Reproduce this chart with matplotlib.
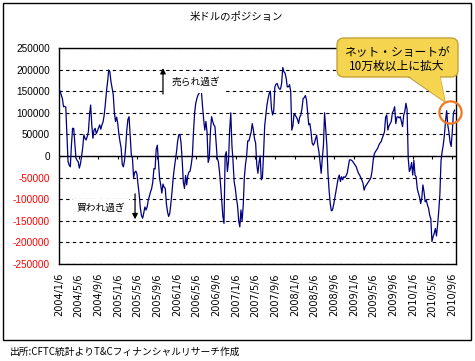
import numpy as np
import pandas as pd
import matplotlib
matplotlib.use("Agg")
import matplotlib.pyplot as plt
import matplotlib.transforms as mtransforms
from matplotlib.patches import Rectangle, FancyBboxPatch, Polygon
from matplotlib.lines import Line2D

plt.rcParams['font.family'] = ['Noto Sans CJK JP', 'DejaVu Sans']

# weekly net position of USD (thousand contracts)
y2004 = [155, 150, 141, 133, 114, 115, 113, 50, -13, -21,
         -25, 25, 64, 64, 30, -5, -10, -13, -28, -18,
         0, 20, 49, 41, 37, 45, 56, 95, 118, 72,
         41, 60, 64, 52, 58, 65, 72, 62, 72, 79,
         95, 120, 150, 172, 199, 195, 172, 157, 142, 100,
         80, 90]
y2005 = [75, 50, 33, 18, -20, -25, -10, 20, 60, 85,
         91, 45, 2, -5, -50, -38, -35, -42, -68, -90,
         -121, -138, -144, -132, -118, -125, -118, -102, -92, -83,
         -75, -60, -29, -30, 15, 25, -15, -52, -67, -86,
         -65, -72, -75, -110, -129, -140, -133, -110, -83, -52,
         -29, -10]
y2006 = [10, 35, 49, 50, 30, -10, -60, -75, -45, -67,
         -45, -37, -35, -20, 0, 55, 100, 122, 133, 141,
         145, 200, 150, 115, 85, 60, 80, 55, -15, -5,
         56, 91, 80, 72, 68, 30, -5, -13, -36, -67,
         -105, -140, -156, 0, 10, -36, -13, 60, 100, 25,
         -13, -60]
y2007 = [-75, -98, -115, -150, -164, -125, -150, -115, -50, -20,
         0, 35, 35, 45, 55, 75, 60, 40, 30, -20,
         -40, -15, 0, -55, -50, 5, 70, 95, 118, 133,
         145, 150, 110, 95, 105, 160, 166, 168, 160, 155,
         155, 168, 205, 195, 192, 180, 160, 160, 165, 150,
         60, 70]
y2008 = [98, 95, 90, 85, 75, 90, 95, 110, 133, 135,
         140, 130, 100, 72, 75, 56, 30, 25, 30, 40,
         48, 25, 10, -15, -40, -5, 25, 100, 64, 25,
         -40, -80, -110, -127, -125, -113, -98, -83, -67, -52,
         -44, -59, -48, -55, -48, -50, -46, -40, -25, -9,
         -9, -10, -13]
y2009 = [-17, -21, -25, -33, -40, -44, -50, -56, -63, -79,
         -71, -67, -63, -59, -55, -50, -35, -10, 5, 10,
         14, 18, 25, 30, 33, 41, 48, 56, 90, 95,
         60, 70, 75, 80, 100, 105, 114, 75, 90, 91,
         88, 91, 80, 68, 95, 103, 122, 107, -5, -36,
         -29, -15]
y2010 = [-44, -10, -44, -48, -75, -86, -95, -110, -98, -67,
         -83, -106, -102, -113, -121, -137, -145, -198, -187, -179,
         -168, -185, -160, -128, -90, -13, 10, 25, 48, 80,
         105, 72, 56, 33, 22, 56, 100, 106]

net = np.array(y2004 + y2005 + y2006 + y2007 + y2008 + y2009 + y2010) * 1000
dates = pd.date_range('2004-01-06', periods=len(net), freq='7D')

tick_dates = pd.date_range('2004-01-01', '2010-09-01', freq='4MS') + pd.Timedelta(days=5)
tick_labels = [f"{d.year}/{d.month}/{d.day}" for d in tick_dates]
yticks = np.arange(-250000, 250001, 50000)

W, H = 475, 361
fig = plt.figure(figsize=(W / 100, H / 100), dpi=100)
ax = fig.add_axes([59 / W, 1 - 264 / H, 397 / W, 216 / H])

ax.plot(dates, net, color='#000080', lw=0.9, zorder=3)
ax.axhline(0, color='k', lw=1, zorder=2)
ax.vlines(tick_dates, -7000, 0, color='k', lw=0.8, zorder=2)

ax.set_xlim(pd.Timestamp('2004-01-06'), pd.Timestamp('2010-09-30'))
ax.set_ylim(-250000, 250000)
ax.set_yticks(yticks)
ax.set_yticklabels([str(int(v)) for v in yticks], fontsize=7.2, family='Liberation Sans')
for lab, v in zip(ax.get_yticklabels(), yticks):
    if v < 0:
        lab.set_color('red')
ax.set_xticks(tick_dates)
ax.set_xticklabels(tick_labels, rotation=90, fontsize=7, family='DejaVu Sans')
ax.tick_params(axis='both', length=0, pad=6.5)
ax.grid(axis='y', ls=(0, (3, 3)), color='k', lw=0.8, zorder=1)
ax.set_axisbelow(True)
for s in ax.spines.values():
    s.set_linewidth(1)
    s.set_color('k')

# annotations
ax.annotate('', xy=(pd.Timestamp('2005-10-11'), 210000), xytext=(pd.Timestamp('2005-10-11'), 137000),
            arrowprops=dict(arrowstyle='-|>', color='k', lw=0.9, mutation_scale=8), zorder=5)
ax.annotate('', xy=(pd.Timestamp('2005-04-21'), -153000), xytext=(pd.Timestamp('2005-04-21'), -81000),
            arrowprops=dict(arrowstyle='-|>', color='k', lw=0.9, mutation_scale=8), zorder=5)
ax.text(pd.Timestamp('2006-05-04'), 171000, '売られ過ぎ', ha='center', va='center', fontsize=7,
        bbox=dict(boxstyle='square,pad=0.6', fc='white', ec='none'), zorder=6)
ax.text(pd.Timestamp('2004-09-22'), -120000, '買われ過ぎ', ha='center', va='center', fontsize=7,
        bbox=dict(boxstyle='square,pad=0.4', fc='white', ec='none'), zorder=6)
ax.plot([pd.Timestamp('2010-08-24')], [102000], 'o', ms=16, mfc='none', mec='#F07820', mew=1.6,
        clip_on=False, zorder=7)

# callout bubble (pixel coordinates, origin top-left)
px = mtransforms.Affine2D().scale(1 / W, -1 / H).translate(0, 1) + fig.transFigure
fill, edge = '#F5D450', '#C4A23A'
fig.patches.append(FancyBboxPatch((337, 38), 121, 39, boxstyle='round,pad=0,rounding_size=7',
                                  transform=px, fc=fill, ec=edge, lw=1, zorder=8))
fig.patches.append(Polygon([(409, 76), (445, 102), (440, 76)], closed=True, transform=px,
                           fc=fill, ec='none', zorder=9))
fig.lines.append(Line2D([409, 445, 440], [77, 102, 77], transform=px, color=edge, lw=1, zorder=9))
fig.text(397 / W, 1 - 59 / H, 'ネット・ショートが\n10万枚以上に拡大', ha='center', va='center',
         fontsize=8.5, linespacing=1.05, zorder=10)

fig.text(236 / W, 1 - 17 / H, '米ドルのポジション', ha='center', va='center', fontsize=7.5)
fig.text(10 / W, 1 - 352 / H, '出所:CFTC統計よりT&Cフィナンシャルリサーチ作成', ha='left', va='center', fontsize=7)
fig.patches.append(Rectangle((2.5, 2.5), 468.5, 337.5, transform=px, fill=False, ec='k', lw=1))

fig.savefig('out.png', dpi=100, facecolor='white')
